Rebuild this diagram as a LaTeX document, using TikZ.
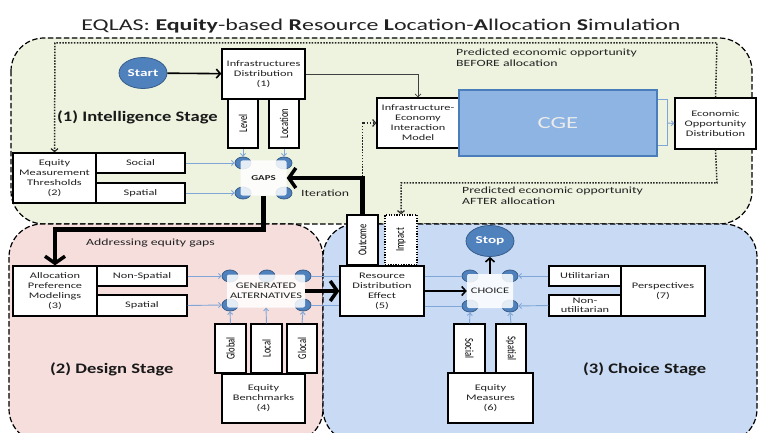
\documentclass[tikz,border=0pt]{standalone}
\usepackage{fontspec}
\setmainfont{Carlito}[FakeStretch=1.45]
\newfontfamily\uprightfont{Carlito}
\newfontfamily\stagefont{Carlito}[FakeStretch=1.28]
\usetikzlibrary{arrows.meta,shapes.geometric}

\definecolor{greenfill}{HTML}{EEF3E0}
\definecolor{pinkfill}{HTML}{F6DEDD}
\definecolor{bluefill}{HTML}{C9DBF4}
\definecolor{blobfill}{HTML}{4F81BD}
\definecolor{blobline}{HTML}{385D8A}
\definecolor{cgefill}{HTML}{8DB4E2}
\definecolor{cgeline}{HTML}{4A7EBB}
\definecolor{feedblue}{HTML}{7FA6D6}
\definecolor{inkgray}{HTML}{222222}

% vertical label text, widened across its baseline like the rest of the lettering
\newcommand{\uptext}[1]{\scalebox{1.4}[1]{\rotatebox{90}{#1}}}
\newcommand{\downtext}[1]{\scalebox{1.4}[1]{\rotatebox{-90}{#1}}}

\tikzset{
  region/.style={draw=black, dash pattern=on 5.5pt off 2.5pt, line width=1.2pt, rounded corners=33pt},
  box/.style={rectangle, draw=black, line width=1.3pt, fill=white, inner sep=1pt, align=center,
              font=\fontsize{8.5}{10}\selectfont, text=inkgray},
  vbox/.style={box, font=\uprightfont\fontsize{8.5}{9}\selectfont, text=black},
  blob/.style={ellipse, draw=blobline, fill=blobfill, line width=0.8pt,
               minimum width=16pt, minimum height=12pt, inner sep=0pt},
  hub/.style={rectangle, fill=white, fill opacity=0.85, text opacity=1, rounded corners=2pt,
              inner sep=0pt, align=center, text=inkgray},
  terminal/.style={ellipse, draw=blobline, fill=blobfill, line width=0.8pt, inner sep=0pt,
                   minimum width=48pt, minimum height=31pt, text=white, font=\bfseries\fontsize{10.5}{12}\selectfont},
  feed/.style={draw=feedblue, line width=0.9pt, -{Straight Barb[length=2.5pt,width=5pt]}},
  link/.style={draw=feedblue, line width=0.9pt},
  flow/.style={draw=black, line width=1.6pt, -{Straight Barb[length=4pt,width=9pt]}},
  bigflow/.style={draw=black, line width=4.5pt, -{Straight Barb[length=7pt,width=20pt,line width=3.5pt]}},
  hint/.style={draw=black!85, line width=1.5pt, dash pattern=on 1.5pt off 1.4pt,
               -{Straight Barb[length=3pt,width=7pt,line width=1.2pt]}},
  feedline/.style={draw=black!75, line width=0.7pt, -{Straight Barb[length=3pt,width=6pt]}},
  label/.style={inner sep=0pt, text=inkgray, align=left},
  stagelabel/.style={label, anchor=west, font=\stagefont\bfseries\fontsize{14.5}{16}\selectfont, text=black!90}
}

\begin{document}
\begin{tikzpicture}[x=1pt,y=-1pt]
\useasboundingbox (0,0) rectangle (758,433);
\fill[white] (0,0) rectangle (758,433);

% stage regions
\begin{scope}
  \clip (0,0) rectangle (758,433);
  \draw[region, fill=greenfill] (11,38) rectangle (752,224);
  \draw[region, fill=pinkfill] (9,224) rectangle (323,442);
  \draw[region, fill=bluefill] (323,224) rectangle (757,442);
\end{scope}

% title
\node[label, anchor=center] (title) at (381,26)
  {\fontsize{16.5}{18}\selectfont EQLAS: \textbf{Equity}-based \textbf{R}esource \textbf{L}ocation-\textbf{A}llocation \textbf{S}imulation};

% ---------- (1) Intelligence stage ----------
\node[terminal] (start) at (143,73) {Start};
\node[box, minimum width=83pt, minimum height=50pt] (infd) at (263.5,74)
  {Infrastructures\\Distribution\\(1)};
\node[vbox, minimum width=30pt, minimum height=49pt] (level) at (243,123.5) {\uptext{Level}};
\node[vbox, minimum width=30pt, minimum height=49pt] (loc) at (284,123.5) {\uptext{Location}};

\node[stagelabel] (intel) at (57,117) {(1) Intelligence Stage};

\node[box, minimum width=83pt, minimum height=50pt] (emt) at (54.5,178)
  {Equity\\Measurement\\Thresholds\\(2)};
\node[box, minimum width=89pt, minimum height=20pt] (soc1) at (140.5,163) {Social};
\node[box, minimum width=89pt, minimum height=20pt] (spa1) at (140.5,193) {Spatial};

\node[box, minimum width=82pt, minimum height=50pt] (iem) at (418,123)
  {Infrastructure-\\Economy\\Interaction\\Model};
\node[rectangle, draw=cgeline, fill=cgefill, line width=2pt, minimum width=198pt, minimum height=66pt,
      text=white!92!black, font=\fontsize{17}{19}\selectfont] (cge) at (558,123) {CGE};
\node[box, minimum width=81pt, minimum height=51pt] (eod) at (715.5,123.5)
  {Economic\\Opportunity\\Distribution};

% GAPS hub
\node[blob] (ga1) at (243,163) {};
\node[blob] (ga2) at (284,163) {};
\node[blob] (ga3) at (243,193) {};
\node[blob] (ga4) at (284,193) {};
\node[hub, minimum width=46pt, minimum height=35pt, font=\bfseries\fontsize{7.5}{9}\selectfont] (gaps) at (263.5,178) {GAPS};

\node[label, anchor=west, font=\fontsize{9.5}{11.5}\selectfont] (before) at (456,57.5)
  {Predicted economic opportunity\\BEFORE allocation};
\node[label, anchor=west, font=\fontsize{9.5}{11.5}\selectfont] (after) at (462,195.5)
  {Predicted economic opportunity\\AFTER allocation};
\node[label, anchor=west, font=\fontsize{9.5}{11}\selectfont] (iter) at (301,193) {Iteration};

% ---------- (2) Design stage ----------
\node[label, anchor=west, font=\fontsize{9.5}{11}\selectfont] (addr) at (86,243) {Addressing equity gaps};
\node[box, minimum width=84pt, minimum height=50pt] (apm) at (55,291)
  {Allocation\\Preference\\Modelings\\(3)};
\node[box, minimum width=90pt, minimum height=20pt] (nsp) at (142,276) {Non-Spatial};
\node[box, minimum width=90pt, minimum height=21pt] (spa2) at (142,305.5) {Spatial};

\node[blob] (gb1) at (230,276) {};
\node[blob] (gb2) at (267,276) {};
\node[blob] (gb3) at (303,276) {};
\node[blob] (gb4) at (230,305) {};
\node[blob] (gb5) at (303,305) {};
\node[hub, minimum width=78pt, minimum height=33pt, font=\fontsize{8.5}{10}\selectfont] (gen) at (266,291)
  {GENERATED\\ALTERNATIVES};

\node[vbox, minimum width=31pt, minimum height=49pt] (glob) at (230.5,348.5) {\uptext{Global}};
\node[vbox, minimum width=31pt, minimum height=49pt] (locl) at (266.5,348.5) {\uptext{Local}};
\node[vbox, minimum width=30pt, minimum height=49pt] (gloc) at (302,348.5) {\uptext{Glocal}};
\node[box, minimum width=83pt, minimum height=49pt] (eb) at (263.5,398.5) {Equity\\Benchmarks\\(4)};

\node[stagelabel] (design) at (50,369) {(2) Design Stage};

% ---------- (3) Choice stage ----------
\node[box, minimum width=84pt, minimum height=50pt] (rde) at (382,291)
  {Resource\\Distribution\\Effect\\(5)};
\node[vbox, minimum width=31pt, minimum height=50pt] (outc) at (362.5,240) {\uptext{Outcome}};
\node[vbox, dash pattern=on 1.3pt off 1.3pt, minimum width=32pt, minimum height=50pt] (impc) at (401,240) {\uptext{Impact}};

\node[blob] (gc1) at (470,276) {};
\node[blob] (gc2) at (510,276) {};
\node[blob] (gc3) at (470,306) {};
\node[blob] (gc4) at (510,306) {};
\node[hub, minimum width=46pt, minimum height=34pt, font=\fontsize{8.5}{10}\selectfont] (choice) at (490,291) {CHOICE};
\node[terminal] (stop) at (490,241) {Stop};

\node[box, minimum width=72pt, minimum height=20pt] (util) at (585,276) {Utilitarian};
\node[box, minimum width=72pt, minimum height=21pt, font=\fontsize{8.5}{9}\selectfont] (nutil) at (585,305.5) {Non-\\utilitarian};
\node[box, minimum width=84pt, minimum height=50pt] (persp) at (663,291) {Perspectives\\(7)};

\node[vbox, minimum width=31pt, minimum height=49pt] (soc3) at (469.5,348.5) {\downtext{Social}};
\node[vbox, minimum width=30pt, minimum height=49pt] (spa3) at (511,348.5) {\downtext{Spatial}};
\node[box, minimum width=85pt, minimum height=50pt] (em) at (490.5,398) {Equity\\Measures\\(6)};

\node[stagelabel] (choicelbl) at (583,369) {(3) Choice Stage};

% ---------- connectors ----------
\coordinate (tr) at (717,43);
\coordinate (tl) at (55,43);
\coordinate (br) at (717,183);
\coordinate (bl) at (401,183);
\draw[hint] (eod.north) -- (tr) -- (tl) -- (emt.north);
\draw[hint] (eod.south) -- (br) -- (bl) -- (impc.north);
\draw[hint] (outc.north) |- (iem.west);

\draw[flow] (start) -- (infd);
\draw[feedline] (infd.east) -| (iem.north);

% CGE output bracket
\coordinate (cgeout) at ([xshift=9pt]cge.east);
\draw[link] ([yshift=-22pt]cge.east) -| ([xshift=9pt,yshift=24pt]cge.east) -- ([yshift=24pt]cge.east);
\draw[feed] (cgeout) -- (eod.west);

% feeds into GAPS
\draw[feed] (soc1.east) -- (ga1.west);
\draw[feed] (spa1.east) -- (ga3.west);
\draw[feed] (level.south) -- (ga1.north);
\draw[feed] (loc.south) -- (ga2.north);

% iteration and gap addressing
\draw[bigflow] (outc.north) |- (gaps.east);
\draw[bigflow] (gaps.south) -- ++(0,34) -| (apm.north);

% feeds into generated alternatives
\draw[feed] (nsp.east) -- (gb1.west);
\draw[feed] (spa2.east) -- (gb4.west);
\draw[feed] (glob.north) -- (gb4.south);
\draw[feed] (locl.north) -- (gen.south);
\draw[feed] (gloc.north) -- (gb5.south);
\draw[link] (gb3.east) -- (gb3.east -| rde.west);
\draw[link] (gb5.east) -- (gb5.east -| rde.west);
\draw[bigflow] (gen.east) -- (rde.west);

% choice
\draw[link] (gc1.west -| rde.east) -- (gc1.west);
\draw[link] (gc3.west -| rde.east) -- (gc3.west);
\draw[flow] (rde.east) -- (choice.west);
\draw[flow] (choice.north) -- (stop.south);
\draw[feed] (util.west) -- (gc2.east);
\draw[feed] (nutil.west) -- (gc4.east);
\draw[feed] (soc3.north) -- (gc3.south);
\draw[feed] (spa3.north) -- (gc4.south);
\end{tikzpicture}
\end{document}
